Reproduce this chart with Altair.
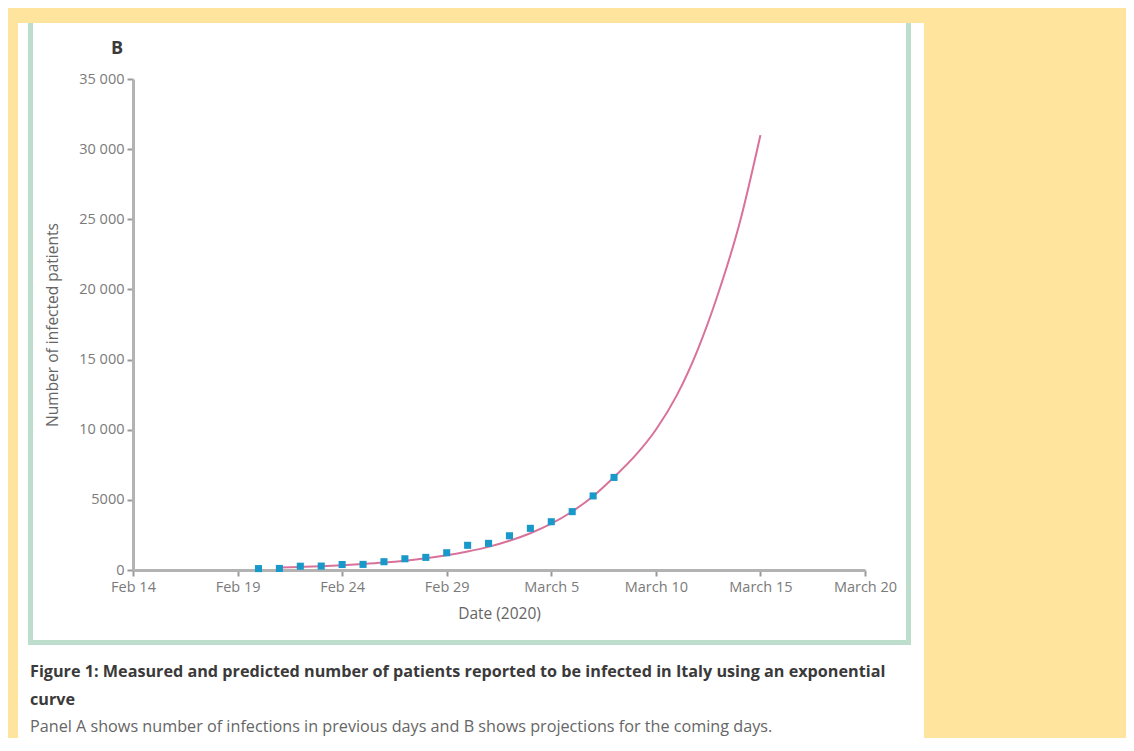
import altair as alt
import pandas as pd

# ---------------- data ----------------
measured_dates = [
    "2020-02-20", "2020-02-21", "2020-02-22", "2020-02-23", "2020-02-24",
    "2020-02-25", "2020-02-26", "2020-02-27", "2020-02-28", "2020-02-29",
    "2020-03-01", "2020-03-02", "2020-03-03", "2020-03-04", "2020-03-05",
    "2020-03-06", "2020-03-07", "2020-03-08",
]
measured_values = [100, 110, 270, 280, 390, 400, 590, 800, 900, 1230,
                   1760, 1900, 2440, 2970, 3440, 4160, 5280, 6600]

fit_dates = [
    "2020-02-21", "2020-02-22", "2020-02-23", "2020-02-24", "2020-02-25",
    "2020-02-26", "2020-02-27", "2020-02-28", "2020-02-29", "2020-03-01",
    "2020-03-02", "2020-03-03", "2020-03-04", "2020-03-05", "2020-03-06",
    "2020-03-07", "2020-03-08", "2020-03-09", "2020-03-10", "2020-03-11",
    "2020-03-12", "2020-03-13", "2020-03-14", "2020-03-15",
]
fit_values = [170, 215, 270, 340, 425, 530, 665, 835, 1050, 1320,
              1650, 2080, 2620, 3300, 4170, 5250, 6620, 8130, 10000, 12450,
              15700, 19800, 24700, 31000]

x_tick_dates = ["2020-02-14", "2020-02-19", "2020-02-24", "2020-02-29",
                "2020-03-05", "2020-03-10", "2020-03-15", "2020-03-20"]
y_ticks = [0, 5000, 10000, 15000, 20000, 25000, 30000, 35000]

panel_letter = "B"
x_title = "Date (2020)"
y_title = "Number of infected patients"
caption_bold = ["Figure 1: Measured and predicted number of patients reported to be infected in Italy using an exponential",
                "curve"]
caption_text = "Panel A shows number of infections in previous days and B shows projections for the coming days."

# ---------------- helpers ----------------
ORIGIN = pd.Timestamp("2020-02-01")


def day_of(s):
    return (pd.Timestamp(s) - ORIGIN).days + 1  # Feb d -> d, Mar d -> 29 + d


measured = pd.DataFrame({"day": [day_of(d) for d in measured_dates], "value": measured_values})
fit = pd.DataFrame({"day": [day_of(d) for d in fit_dates], "value": fit_values})
x_ticks = [day_of(d) for d in x_tick_dates]

W, H = 732, 491
PAD = {"left": 125, "top": 71, "right": 261, "bottom": 168}
FONT = "Open Sans"
YELLOW = "#fee49c"
GREEN = "#bddecd"

x_scale = alt.Scale(domain=[x_ticks[0], x_ticks[-1]], nice=False)
y_scale = alt.Scale(domain=[0, 35000], nice=False)

x_enc = alt.X(
    "day:Q", scale=x_scale,
    axis=alt.Axis(
        values=x_ticks, title=x_title, labelFlush=False,
        labelExpr="datum.value <= 29 ? 'Feb ' + datum.value : 'March ' + (datum.value - 29)",
        titlePadding=13, labelPadding=4,
    ),
)
y_enc = alt.Y(
    "value:Q", scale=y_scale,
    axis=alt.Axis(
        values=y_ticks, title=y_title, labelFlush=False,
        labelExpr="datum.value >= 10000 ? replace(format(datum.value, ','), ',', ' ') : format(datum.value, 'd')",
        titlePadding=18, labelPadding=3,
    ),
)

line = alt.Chart(fit).mark_line(color="#d9729a", strokeWidth=2, interpolate="monotone").encode(x=x_enc, y=y_enc)
points = alt.Chart(measured).mark_square(color="#1899c9", size=50, opacity=1).encode(x=x_enc, y=y_enc)


def box(x1, x2, y1, y2, color):
    return alt.Chart(alt.Data(values=[{}])).mark_rect(color=color).encode(
        x=alt.value(x1), x2=alt.value(x2), y=alt.value(y1), y2=alt.value(y2)
    )


frame = [
    box(-125, 993, -71, -56, YELLOW),   # top band
    box(-125, -115, -71, 659, YELLOW),  # left band
    box(791, 993, -71, 659, YELLOW),    # right band
    box(-105, -100, -56, 566, GREEN),   # left border
    box(773, 778, -56, 566, GREEN),     # right border
    box(-105, 778, 561, 566, GREEN),    # bottom border
]


def label(text, x, y, size, weight="normal", color="#444"):
    return alt.Chart(alt.Data(values=[{"t": text}])).mark_text(
        align="left", baseline="middle", font=FONT, fontSize=size, fontWeight=weight, color=color
    ).encode(text="t:N", x=alt.value(x), y=alt.value(y))


texts = [
    label(panel_letter, -22, -30, 18, "bold", "#3a3a3a"),
    label(caption_bold[0], -103, 593, 16.2, "bold", "#3a3a3a"),
    label(caption_bold[1], -103, 621, 16.2, "bold", "#3a3a3a"),
    label(caption_text, -103, 648, 16.2, "normal", "#666"),
]

chart = alt.layer(*frame, line, points, *texts).properties(
    width=W, height=H, padding=PAD, autosize=alt.AutoSizeParams(type="none"),
    background="white",
).configure_view(strokeWidth=0).configure_axis(
    grid=False, domainColor="#b3b3b3", domainWidth=3, tickColor="#9a9a9a", tickWidth=2, tickSize=6,
    labelColor="#7a7a7a", labelFont=FONT, labelFontSize=14.5, titleColor="#666", titleFont=FONT,
    titleFontSize=15.5, titleFontWeight="normal",
)

chart.save("out.html", embed_options={"renderer": "svg", "actions": False})
